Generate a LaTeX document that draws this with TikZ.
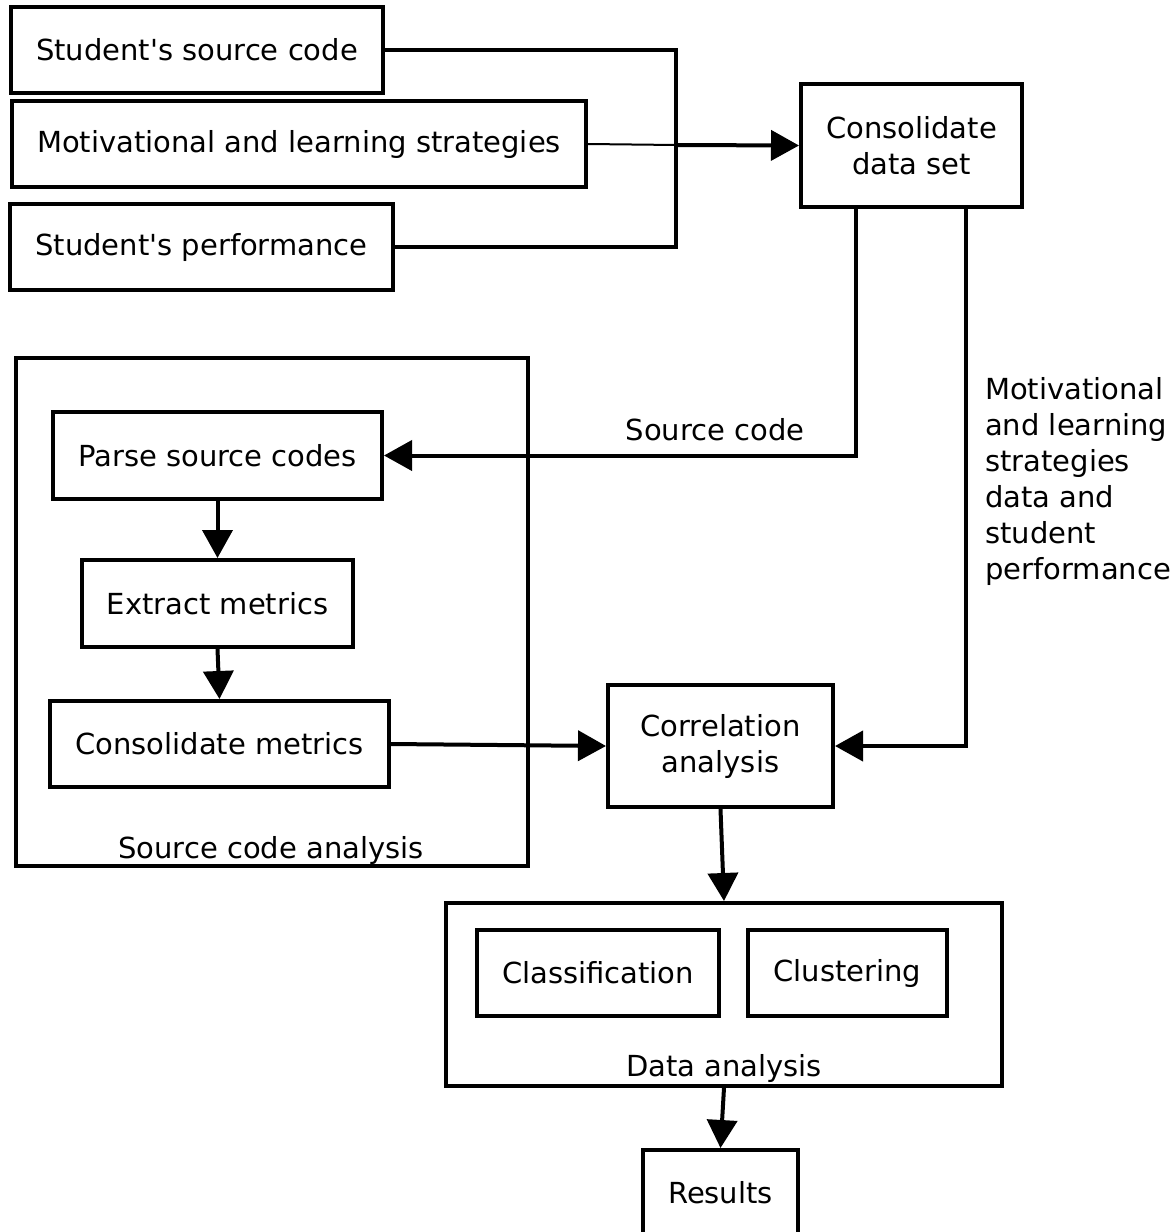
\documentclass[tikz,border=0pt]{standalone}
\usepackage{fontspec}
\setmainfont{DejaVu Sans}
\usetikzlibrary{arrows.meta}
\begin{document}
\begin{tikzpicture}[x=1pt,y=-1pt,
  every node/.style={font=\fontsize{29}{36}\selectfont},
  box/.style={draw,line width=4pt,minimum width=#1,minimum height=86pt,inner sep=0pt,align=center},
  grp/.style={draw,line width=4pt,inner sep=0pt},
  lbl/.style={inner sep=0pt,align=left},
  conn/.style={line width=4pt},
  thin/.style={line width=2pt},
  arr/.style={line width=4pt,-{Triangle[length=28pt,width=30pt]}}]
\useasboundingbox (0,0) rectangle (1175,1232);
% groups
\node[grp,minimum width=512pt,minimum height=508pt] (g1) at (272,612) {};
\node[grp,minimum width=556pt,minimum height=183pt] (g2) at (724,994.5) {};
\node[lbl] (g1l) at (271,850) {Source code analysis};
\node[lbl] (g2l) at (724,1068) {Data analysis};
% inputs
\node[box=372pt] (src) at (197,50) {Student\textquotesingle s source code};
\node[box=574pt] (mot) at (299,144) {Motivational and learning strategies};
\node[box=383pt] (perf) at (201.5,247) {Student\textquotesingle s performance};
\node[box=221pt,minimum height=123pt] (cons) at (911.5,145.5) {Consolidate\\data set};
% source code analysis
\node[box=329pt,minimum height=87pt] (parse) at (217.5,455.5) {Parse source codes};
\node[box=271pt,minimum height=87pt] (extract) at (217.5,603.5) {Extract metrics};
\node[box=339pt] (cmet) at (219.5,744) {Consolidate metrics};
\node[box=225pt,minimum height=122pt] (corr) at (720.5,746) {Correlation\\analysis};
% data analysis
\node[box=242pt] (class) at (598,973) {Classification};
\node[box=199pt] (clust) at (847.5,973) {Clustering};
\node[box=155pt,minimum height=86pt] (res) at (720.5,1193) {Results};
% labels
\node[lbl] (scl) at (715,430) {Source code};
\node[lbl,anchor=north west] (ml) at (985,377) {Motivational\\and learning\\strategies\\data and\\student\\performance};
% connectors
\coordinate (bt) at (676,50);
\coordinate (bm) at (676,145);
\draw[conn] (src.east) -- (bt) |- (perf.east);
\draw[thin] (mot.east) -- (bm);
\draw[arr] (bm) -- (cons.west);
\draw[arr] ([xshift=-55.5pt]cons.south) |- (parse.east);
\draw[arr] ([xshift=54.5pt]cons.south) |- (corr.east);
\draw[arr] (parse.south) -- (extract.north);
\draw[arr] (extract.south) -- (cmet.north);
\draw[arr] (cmet.east) -- (corr.west);
\draw[arr] (corr.south) -- (g2.north);
\draw[arr] (g2.south) -- (res.north);
\end{tikzpicture}
\end{document}
